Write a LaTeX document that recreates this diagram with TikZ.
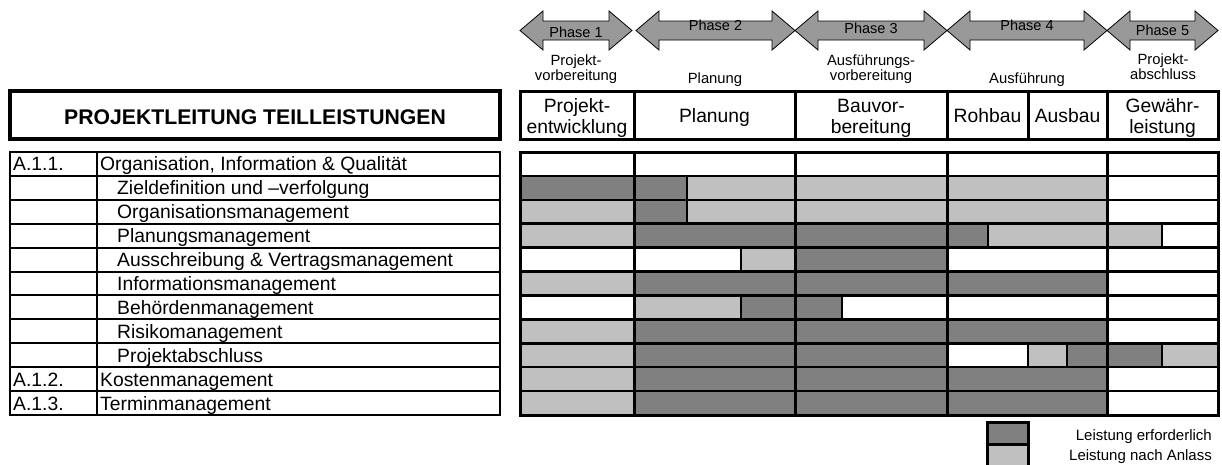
\documentclass[tikz,border=0pt]{standalone}
\usepackage{fontspec}
\setmainfont{Liberation Sans}
\definecolor{dk}{HTML}{808080}
\definecolor{lt}{HTML}{C0C0C0}
\definecolor{ar}{HTML}{999999}
\tikzset{
  phasearrow/.style={draw=black, fill=ar, line width=0.8pt, line join=miter},
  phasetxt/.style={inner sep=0pt, font=\fontsize{14.5}{15}\selectfont},
  sublbl/.style={inner sep=0pt, align=center, font=\fontsize{14.8}{15}\selectfont},
  hdrbox/.style={draw=black, line width=3pt, inner sep=0pt},
  hdrtxt/.style={inner sep=0pt, align=center, font=\fontsize{19.3}{21}\selectfont},
  rowtxt/.style={inner sep=0pt, anchor=base west, font=\fontsize{19.3}{21}\selectfont},
  legtxt/.style={inner sep=0pt, anchor=base east, font=\fontsize{15}{16}\selectfont},
  legbox/.style={draw=black, line width=3pt, inner sep=0pt, minimum width=41, minimum height=22},
  gridline/.style={line width=2.5pt},
  tabline/.style={line width=2pt},
}
\begin{document}
\begin{tikzpicture}[x=1pt,y=-1pt]
\useasboundingbox (0,0) rectangle (1222,464);

% phase arrows
\foreach \xa/\xb/\lab/\ly [count=\i] in {520/632/Phase 1/32,636/795/Phase 2/25,795/947/Phase 3/28,947/1107/Phase 4/25,1107/1218/Phase 5/30}{
  \draw[phasearrow] (\xa,30.5) -- (\xa+23,11) -- (\xa+23,21) -- (\xb-23,21) -- (\xb-23,11) -- (\xb,30.5)
     -- (\xb-23,50) -- (\xb-23,40) -- (\xa+23,40) -- (\xa+23,50) -- cycle;
  \node[phasetxt] (ph\i) at ({(\xa+\xb)/2},\ly) {\lab};
}

% phase sub labels
\node[sublbl] (sl1) at (576,68.75) {Projekt-\\vorbereitung};
\node[sublbl] (sl2) at (715,79.25) {Planung};
\node[sublbl] (sl3) at (871,68.75) {Ausführungs-\\vorbereitung};
\node[sublbl] (sl4) at (1027,79.25) {Ausführung};
\node[sublbl] (sl5) at (1163,67.2) {Projekt-\\abschluss};

% title box
\node[hdrbox, line width=3.5pt, minimum width=490, minimum height=48] (titlebox) at (255,115) {};
\node[inner sep=0pt, font=\bfseries\fontsize{21.2}{24}\selectfont] (title) at (255,117) {PROJEKTLEITUNG TEILLEISTUNGEN};

% header boxes
\node[hdrbox, minimum width=114, minimum height=48] (hb1) at (577,115) {};
\node[hdrbox, minimum width=161, minimum height=48] (hb2) at (714.5,115) {};
\node[hdrbox, minimum width=152, minimum height=48] (hb3) at (871,115) {};
\node[hdrbox, minimum width=81, minimum height=48] (hb4) at (987.5,115) {};
\node[hdrbox, minimum width=79, minimum height=48] (hb5) at (1067.5,115) {};
\node[hdrbox, minimum width=111, minimum height=48] (hb6) at (1162.5,115) {};
\node[hdrtxt] (ht1) at (577,118.5) {Projekt-\\entwicklung};
\node[hdrtxt] (ht2) at (714.5,117.1) {Planung};
\node[hdrtxt] (ht3) at (871,118.5) {Bauvor-\\bereitung};
\node[hdrtxt] (ht4) at (987.5,115.1) {Rohbau};
\node[hdrtxt] (ht5) at (1067.5,115.1) {Ausbau};
\node[hdrtxt] (ht6) at (1162.5,118.5) {Gewähr-\\leistung};

% left table
\foreach \i in {1,...,10}{
  \draw[tabline] (10,{152+\i*263/11}) -- (500,{152+\i*263/11});
}
\draw[tabline] (97,152) -- (97,415);
\draw[line width=2.5pt] (10,152) rectangle (500,415);

\node[rowtxt] (r0a) at (13,170) {A.1.1.};
\node[rowtxt] (r0b) at (100,170) {Organisation, Information \& Qualität};
\node[rowtxt] (r1) at (117,194) {Zieldefinition und –verfolgung};
\node[rowtxt] (r2) at (117,218) {Organisationsmanagement};
\node[rowtxt] (r3) at (117,242) {Planungsmanagement};
\node[rowtxt] (r4) at (117,266) {Ausschreibung \& Vertragsmanagement};
\node[rowtxt] (r5) at (117,290) {Informationsmanagement};
\node[rowtxt] (r6) at (117,314) {Behördenmanagement};
\node[rowtxt] (r7) at (117,338) {Risikomanagement};
\node[rowtxt] (r8) at (117,362) {Projektabschluss};
\node[rowtxt] (r9a) at (13,386) {A.1.2.};
\node[rowtxt] (r9b) at (100,386) {Kostenmanagement};
\node[rowtxt] (r10a) at (13,410) {A.1.3.};
\node[rowtxt] (r10b) at (100,410) {Terminmanagement};

% grid fills
\foreach \r/\p/\q/\c in {
  1/520/687/dk, 1/687/1107/lt,
  2/520/634/lt, 2/634/687/dk, 2/687/1107/lt,
  3/520/634/lt, 3/634/988/dk, 3/988/1162/lt,
  4/741/795/lt, 4/795/947/dk,
  5/520/634/lt, 5/634/1107/dk,
  6/634/741/lt, 6/741/842/dk,
  7/520/634/lt, 7/634/1107/dk,
  8/520/634/lt, 8/634/947/dk, 8/1028/1067/lt, 8/1067/1162/dk, 8/1162/1218/lt,
  9/520/634/lt, 9/634/1107/dk,
  10/520/634/lt, 10/634/1107/dk}{
  \fill[\c] (\p,{152+\r*263/11}) rectangle (\q,{152+(\r+1)*263/11});
}
% grid lines
\foreach \i in {1,...,10}{
  \draw[gridline] (520,{152+\i*263/11}) -- (1218,{152+\i*263/11});
}
\foreach \r/\x in {1/687, 2/687, 3/988, 3/1162, 4/741, 6/741, 6/842, 8/1028, 8/1067, 8/1162}{
  \draw[gridline] (\x,{152+\r*263/11}) -- (\x,{152+(\r+1)*263/11});
}
\foreach \x in {634,795,947,1107}{
  \draw[line width=3pt] (\x,152) -- (\x,415);
}
\draw[line width=3pt] (520,152) rectangle (1218,415);

% legend
\node[legbox, fill=dk] (lg1) at (1007.5,433) {};
\node[legbox, fill=lt, minimum height=23] (lg2) at (1007.5,455.5) {};
\node[legtxt] (lt1) at (1212,440) {Leistung erforderlich};
\node[legtxt] (lt2) at (1212,460) {Leistung nach Anlass};
\end{tikzpicture}
\end{document}
